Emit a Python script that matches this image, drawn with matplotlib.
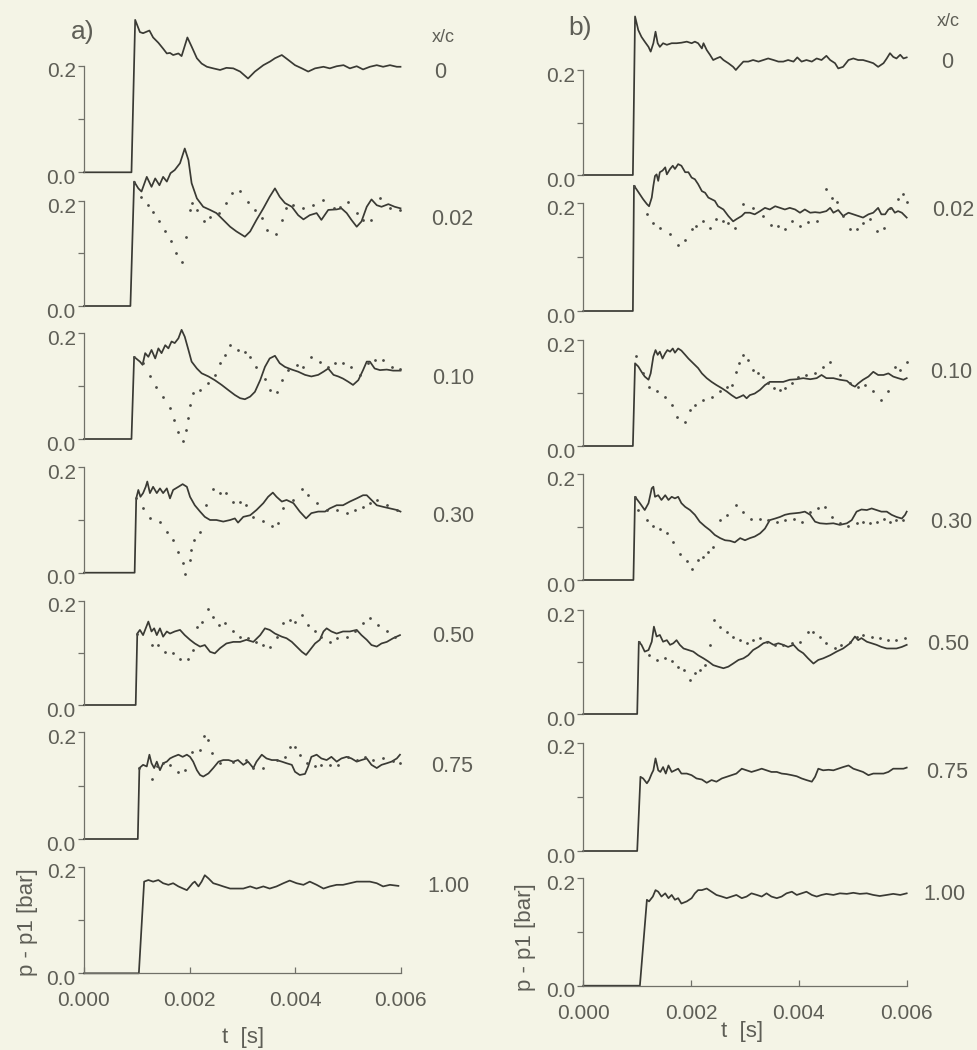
import numpy as np
import matplotlib
matplotlib.use("Agg")
import matplotlib.pyplot as plt
from matplotlib.transforms import ScaledTranslation

plt.rcParams['font.family'] = ['Liberation Sans', 'DejaVu Sans']

# ------------------------------------------------------------------ data
xc_labels = ['0', '0.02', '0.10', '0.30', '0.50', '0.75', '1.00']
t_ticks = [0.000, 0.002, 0.004, 0.006]
t_tick_labels = ['0.000', '0.002', '0.004', '0.006']
p_ticks = [0.0, 0.1, 0.2]
p_tick_labels = ['0.0', '', '0.2']

# ---- panel a) : solid lines (time in ms, p - p1 in bar)
a0_t_ms = [0, 0.90, 0.97, 1.06, 1.12, 1.24, 1.31, 1.41, 1.50, 1.57, 1.63, 1.69, 1.79, 1.85, 1.96, 2.04, 2.14, 2.23, 2.33, 2.45,
           2.58, 2.70, 2.83, 2.96, 3.11, 3.24, 3.40, 3.53, 3.62, 3.75, 3.87, 4.00, 4.13, 4.25, 4.38, 4.54, 4.66, 4.79, 4.92, 5.04,
           5.17, 5.29, 5.42, 5.55, 5.67, 5.80, 5.93, 6.00]
a0_p = [0, 0, 0.286, 0.263, 0.261, 0.266, 0.253, 0.243, 0.232, 0.223, 0.224, 0.220, 0.223, 0.218, 0.253, 0.236, 0.214, 0.204, 0.198, 0.195,
        0.192, 0.196, 0.195, 0.189, 0.176, 0.189, 0.201, 0.208, 0.214, 0.220, 0.211, 0.201, 0.195, 0.189, 0.195, 0.198, 0.195, 0.199, 0.201, 0.195,
        0.199, 0.193, 0.198, 0.201, 0.198, 0.201, 0.198, 0.198]

a1_t_ms = [0, 0.88, 0.95, 1.03, 1.09, 1.19, 1.28, 1.35, 1.43, 1.50, 1.57, 1.64, 1.72, 1.82, 1.91, 1.98, 2.04, 2.14, 2.26, 2.39,
           2.51, 2.64, 2.77, 2.89, 3.05, 3.15, 3.27, 3.40, 3.52, 3.62, 3.71, 3.81, 3.94, 4.06, 4.16, 4.28, 4.41, 4.50, 4.63, 4.79,
           4.88, 4.98, 5.07, 5.17, 5.26, 5.36, 5.45, 5.55, 5.64, 5.77, 5.89, 6.00]
a1_p = [0, 0, 0.237, 0.224, 0.218, 0.246, 0.227, 0.243, 0.230, 0.246, 0.237, 0.253, 0.259, 0.272, 0.300, 0.278, 0.234, 0.205, 0.189, 0.183,
        0.177, 0.164, 0.151, 0.142, 0.132, 0.142, 0.164, 0.186, 0.208, 0.224, 0.208, 0.196, 0.189, 0.173, 0.165, 0.173, 0.177, 0.164, 0.183, 0.184,
        0.186, 0.177, 0.164, 0.151, 0.161, 0.189, 0.203, 0.192, 0.189, 0.194, 0.189, 0.186]

a2_t_ms = [0, 0.90, 0.95, 1.06, 1.11, 1.16, 1.22, 1.28, 1.35, 1.41, 1.47, 1.54, 1.60, 1.66, 1.72, 1.79, 1.85, 1.91, 1.98, 2.04,
           2.14, 2.23, 2.36, 2.48, 2.61, 2.74, 2.86, 2.96, 3.05, 3.15, 3.24, 3.34, 3.43, 3.52, 3.62, 3.71, 3.81, 3.94, 4.06, 4.19,
           4.31, 4.44, 4.54, 4.63, 4.73, 4.82, 4.91, 5.01, 5.10, 5.20, 5.29, 5.36, 5.42, 5.51, 5.61, 5.74, 5.86, 6.00]
a2_p = [0, 0, 0.155, 0.146, 0.140, 0.162, 0.155, 0.168, 0.152, 0.171, 0.162, 0.177, 0.171, 0.184, 0.181, 0.190, 0.206, 0.193, 0.168, 0.146,
        0.133, 0.124, 0.118, 0.111, 0.102, 0.092, 0.083, 0.077, 0.075, 0.080, 0.089, 0.111, 0.136, 0.152, 0.157, 0.143, 0.136, 0.131, 0.127, 0.121,
        0.118, 0.121, 0.127, 0.133, 0.121, 0.118, 0.114, 0.108, 0.102, 0.111, 0.130, 0.146, 0.146, 0.133, 0.130, 0.131, 0.129, 0.129]

a3_t_ms = [0, 0.96, 0.99, 1.03, 1.07, 1.12, 1.17, 1.20, 1.25, 1.31, 1.38, 1.44, 1.50, 1.57, 1.63, 1.69, 1.79, 1.87, 1.95, 2.01,
           2.10, 2.20, 2.29, 2.39, 2.51, 2.64, 2.77, 2.86, 2.92, 3.02, 3.15, 3.27, 3.40, 3.49, 3.58, 3.65, 3.75, 3.84, 3.97, 4.09,
           4.21, 4.31, 4.44, 4.57, 4.66, 4.79, 4.91, 5.04, 5.17, 5.29, 5.36, 5.45, 5.55, 5.67, 5.80, 5.93, 6.00]
a3_p = [0, 0, 0.141, 0.157, 0.144, 0.151, 0.163, 0.173, 0.151, 0.163, 0.151, 0.160, 0.151, 0.160, 0.141, 0.157, 0.163, 0.168, 0.163, 0.144,
        0.128, 0.116, 0.106, 0.100, 0.100, 0.097, 0.100, 0.103, 0.095, 0.106, 0.109, 0.119, 0.132, 0.144, 0.152, 0.144, 0.135, 0.138, 0.132, 0.116,
        0.103, 0.113, 0.116, 0.116, 0.122, 0.128, 0.128, 0.135, 0.141, 0.147, 0.147, 0.138, 0.128, 0.125, 0.122, 0.119, 0.116]

a4_t_ms = [0, 0.98, 1.01, 1.06, 1.12, 1.17, 1.22, 1.28, 1.33, 1.38, 1.44, 1.50, 1.57, 1.63, 1.72, 1.82, 1.91, 2.01, 2.10, 2.20,
           2.29, 2.39, 2.48, 2.58, 2.70, 2.83, 2.96, 3.08, 3.21, 3.34, 3.43, 3.52, 3.62, 3.75, 3.84, 3.94, 4.03, 4.13, 4.21, 4.28,
           4.38, 4.47, 4.54, 4.60, 4.69, 4.79, 4.91, 5.04, 5.17, 5.26, 5.36, 5.45, 5.55, 5.64, 5.74, 5.86, 5.99]
a4_p = [0, 0, 0.137, 0.144, 0.134, 0.147, 0.160, 0.141, 0.147, 0.134, 0.147, 0.131, 0.141, 0.137, 0.141, 0.144, 0.134, 0.125, 0.118, 0.112,
        0.115, 0.102, 0.099, 0.109, 0.118, 0.121, 0.121, 0.125, 0.121, 0.134, 0.147, 0.144, 0.137, 0.131, 0.128, 0.121, 0.112, 0.102, 0.096, 0.105,
        0.118, 0.125, 0.141, 0.147, 0.141, 0.137, 0.141, 0.141, 0.144, 0.134, 0.125, 0.115, 0.112, 0.118, 0.121, 0.128, 0.134]

a5_t_ms = [0, 1.02, 1.05, 1.12, 1.19, 1.24, 1.28, 1.33, 1.38, 1.44, 1.50, 1.57, 1.63, 1.69, 1.79, 1.87, 1.95, 2.01, 2.07, 2.14,
           2.20, 2.26, 2.36, 2.45, 2.55, 2.64, 2.74, 2.83, 2.92, 3.02, 3.11, 3.21, 3.27, 3.37, 3.46, 3.56, 3.65, 3.75, 3.84, 3.94,
           4.00, 4.09, 4.19, 4.25, 4.31, 4.41, 4.50, 4.60, 4.69, 4.79, 4.88, 4.98, 5.07, 5.17, 5.26, 5.36, 5.45, 5.55, 5.64, 5.74,
           5.83, 5.93, 5.99]
a5_p = [0, 0, 0.133, 0.139, 0.136, 0.158, 0.142, 0.133, 0.145, 0.129, 0.142, 0.145, 0.151, 0.154, 0.158, 0.154, 0.158, 0.154, 0.145, 0.129,
        0.120, 0.117, 0.123, 0.133, 0.145, 0.148, 0.148, 0.145, 0.148, 0.139, 0.145, 0.133, 0.145, 0.158, 0.151, 0.148, 0.148, 0.145, 0.142, 0.139,
        0.126, 0.120, 0.122, 0.136, 0.154, 0.158, 0.151, 0.148, 0.154, 0.145, 0.151, 0.154, 0.151, 0.145, 0.148, 0.151, 0.139, 0.133, 0.139, 0.142,
        0.145, 0.151, 0.158]

a6_t_ms = [0, 1.04, 1.14, 1.22, 1.31, 1.41, 1.50, 1.60, 1.69, 1.79, 1.88, 1.95, 2.01, 2.06, 2.10, 2.17, 2.23, 2.29, 2.36, 2.45,
           2.55, 2.64, 2.77, 2.89, 3.02, 3.15, 3.27, 3.40, 3.52, 3.65, 3.78, 3.90, 4.03, 4.16, 4.28, 4.41, 4.54, 4.66, 4.79, 4.91,
           5.04, 5.17, 5.29, 5.42, 5.55, 5.67, 5.80, 5.96]
a6_p = [0, 0, 0.172, 0.175, 0.172, 0.175, 0.169, 0.166, 0.169, 0.163, 0.159, 0.156, 0.163, 0.169, 0.172, 0.163, 0.172, 0.184, 0.178, 0.169,
        0.166, 0.163, 0.159, 0.159, 0.159, 0.163, 0.159, 0.163, 0.159, 0.163, 0.169, 0.174, 0.169, 0.166, 0.172, 0.166, 0.159, 0.163, 0.166, 0.166,
        0.169, 0.172, 0.172, 0.172, 0.169, 0.163, 0.166, 0.164]

# ---- panel a) : dotted series
a1d_t_ms = [0.95, 1.09, 1.22, 1.31, 1.43, 1.54, 1.64, 1.74, 1.85, 1.93, 2.00, 2.04, 2.14, 2.27, 2.39, 2.55, 2.70, 2.80, 2.96, 3.11,
            3.24, 3.37, 3.46, 3.64, 3.75, 3.83, 3.97, 4.16, 4.35, 4.54, 4.73, 4.85, 5.01, 5.17, 5.29, 5.45, 5.61, 5.80, 5.99]
a1d_p = [0.237, 0.208, 0.192, 0.180, 0.161, 0.142, 0.123, 0.100, 0.084, 0.132, 0.183, 0.197, 0.183, 0.162, 0.170, 0.178, 0.197, 0.216, 0.220, 0.199,
         0.183, 0.167, 0.145, 0.138, 0.164, 0.186, 0.192, 0.186, 0.192, 0.202, 0.186, 0.189, 0.199, 0.177, 0.164, 0.164, 0.205, 0.186, 0.182]

a2d_t_ms = [0.95, 1.12, 1.25, 1.36, 1.50, 1.63, 1.71, 1.79, 1.87, 1.93, 1.98, 2.01, 2.06, 2.20, 2.36, 2.48, 2.58, 2.67, 2.77, 2.92,
            3.05, 3.15, 3.27, 3.43, 3.52, 3.65, 3.75, 3.87, 4.03, 4.16, 4.31, 4.47, 4.63, 4.76, 4.91, 5.07, 5.23, 5.39, 5.51, 5.67,
            5.83, 5.99]
a2d_p = [0.155, 0.143, 0.118, 0.099, 0.080, 0.058, 0.036, 0.014, -0.004, 0.017, 0.039, 0.064, 0.086, 0.092, 0.105, 0.121, 0.143, 0.158, 0.177, 0.168,
         0.165, 0.155, 0.136, 0.114, 0.092, 0.089, 0.111, 0.130, 0.140, 0.136, 0.155, 0.146, 0.136, 0.143, 0.144, 0.136, 0.121, 0.143, 0.149, 0.149,
         0.136, 0.133]

a3d_t_ms = [0.99, 1.12, 1.25, 1.44, 1.57, 1.69, 1.79, 1.87, 1.91, 2.00, 2.02, 2.08, 2.20, 2.32, 2.45, 2.58, 2.70, 2.83, 2.96, 3.08,
            3.21, 3.40, 3.56, 3.68, 3.78, 3.97, 4.13, 4.25, 4.41, 4.60, 4.79, 4.98, 5.14, 5.29, 5.42, 5.55, 5.74, 5.93]
a3d_p = [0.141, 0.122, 0.103, 0.097, 0.078, 0.062, 0.040, 0.018, -0.003, 0.024, 0.043, 0.062, 0.078, 0.128, 0.158, 0.151, 0.152, 0.135, 0.135, 0.128,
         0.106, 0.099, 0.089, 0.095, 0.122, 0.138, 0.158, 0.147, 0.132, 0.119, 0.119, 0.113, 0.119, 0.125, 0.132, 0.138, 0.128, 0.119]

a4d_t_ms = [1.01, 1.28, 1.41, 1.54, 1.69, 1.82, 1.98, 2.07, 2.14, 2.23, 2.36, 2.45, 2.55, 2.67, 2.83, 2.96, 3.11, 3.27, 3.40, 3.52,
            3.65, 3.78, 3.90, 4.00, 4.13, 4.25, 4.38, 4.50, 4.66, 4.79, 4.98, 5.14, 5.29, 5.42, 5.58, 5.74, 5.89]
a4d_p = [0.137, 0.115, 0.115, 0.102, 0.099, 0.089, 0.089, 0.105, 0.150, 0.160, 0.185, 0.169, 0.153, 0.157, 0.141, 0.131, 0.128, 0.121, 0.115, 0.112,
         0.131, 0.157, 0.163, 0.160, 0.173, 0.153, 0.141, 0.131, 0.121, 0.128, 0.131, 0.141, 0.157, 0.166, 0.153, 0.141, 0.131]

a5d_t_ms = [1.05, 1.28, 1.38, 1.50, 1.63, 1.79, 1.91, 2.04, 2.20, 2.27, 2.36, 2.42, 2.58, 2.83, 3.08, 3.21, 3.40, 3.65, 3.81, 3.90,
            4.00, 4.09, 4.22, 4.38, 4.50, 4.66, 4.82, 5.01, 5.17, 5.33, 5.48, 5.67, 5.86, 5.99]
a5d_p = [0.133, 0.112, 0.136, 0.142, 0.139, 0.126, 0.129, 0.164, 0.167, 0.193, 0.186, 0.161, 0.142, 0.145, 0.148, 0.133, 0.133, 0.148, 0.154, 0.173,
         0.172, 0.158, 0.142, 0.136, 0.139, 0.139, 0.139, 0.154, 0.148, 0.154, 0.148, 0.151, 0.147, 0.142]

# ---- panel b) : solid lines
b0_t_ms = [0, 0.92, 0.96, 1.02, 1.08, 1.14, 1.21, 1.25, 1.30, 1.34, 1.38, 1.42, 1.48, 1.55, 1.64, 1.73, 1.82, 1.92, 2.01, 2.07,
           2.13, 2.20, 2.23, 2.29, 2.35, 2.41, 2.47, 2.54, 2.60, 2.69, 2.78, 2.83, 2.88, 2.97, 3.06, 3.15, 3.25, 3.34, 3.43, 3.53,
           3.62, 3.71, 3.80, 3.90, 3.97, 4.05, 4.14, 4.24, 4.33, 4.42, 4.51, 4.58, 4.67, 4.73, 4.82, 4.92, 5.01, 5.10, 5.19, 5.29,
           5.38, 5.47, 5.57, 5.63, 5.69, 5.75, 5.81, 5.88, 5.94, 6.00]
b0_p = [0, 0, 0.302, 0.276, 0.263, 0.254, 0.244, 0.235, 0.251, 0.273, 0.251, 0.244, 0.251, 0.248, 0.251, 0.251, 0.252, 0.254, 0.251, 0.254,
        0.251, 0.241, 0.251, 0.238, 0.229, 0.219, 0.222, 0.225, 0.219, 0.213, 0.206, 0.200, 0.206, 0.216, 0.216, 0.219, 0.216, 0.219, 0.222, 0.219,
        0.216, 0.216, 0.219, 0.216, 0.224, 0.216, 0.219, 0.216, 0.222, 0.219, 0.227, 0.219, 0.213, 0.203, 0.206, 0.219, 0.222, 0.219, 0.219, 0.216,
        0.213, 0.206, 0.213, 0.222, 0.232, 0.225, 0.222, 0.229, 0.222, 0.224]

b1_t_ms = [0, 0.92, 0.94, 0.99, 1.05, 1.11, 1.18, 1.22, 1.27, 1.30, 1.33, 1.36, 1.39, 1.42, 1.47, 1.52, 1.55, 1.61, 1.66, 1.70,
           1.76, 1.82, 1.89, 1.95, 2.01, 2.07, 2.13, 2.20, 2.26, 2.32, 2.38, 2.44, 2.50, 2.60, 2.69, 2.78, 2.84, 2.94, 3.00, 3.09,
           3.18, 3.28, 3.37, 3.46, 3.56, 3.65, 3.74, 3.83, 3.93, 4.02, 4.11, 4.21, 4.30, 4.39, 4.51, 4.58, 4.64, 4.73, 4.82, 4.92,
           5.01, 5.10, 5.19, 5.29, 5.38, 5.47, 5.53, 5.60, 5.66, 5.72, 5.78, 5.84, 5.91, 6.00]
b1_p = [0, 0, 0.232, 0.225, 0.216, 0.207, 0.198, 0.194, 0.210, 0.232, 0.250, 0.253, 0.241, 0.257, 0.260, 0.266, 0.253, 0.263, 0.269, 0.263,
        0.272, 0.269, 0.257, 0.257, 0.247, 0.244, 0.235, 0.222, 0.219, 0.210, 0.207, 0.204, 0.194, 0.188, 0.176, 0.166, 0.170, 0.176, 0.182, 0.182,
        0.179, 0.185, 0.191, 0.188, 0.194, 0.191, 0.188, 0.191, 0.188, 0.182, 0.188, 0.182, 0.183, 0.182, 0.185, 0.191, 0.182, 0.187, 0.176, 0.182,
        0.179, 0.176, 0.173, 0.179, 0.182, 0.191, 0.179, 0.179, 0.188, 0.191, 0.182, 0.185, 0.182, 0.173]

b2_t_ms = [0, 0.92, 0.96, 1.02, 1.08, 1.14, 1.21, 1.25, 1.30, 1.34, 1.38, 1.42, 1.47, 1.52, 1.56, 1.61, 1.66, 1.70, 1.76, 1.82,
           1.89, 1.95, 2.04, 2.13, 2.20, 2.29, 2.38, 2.47, 2.57, 2.66, 2.75, 2.84, 2.91, 2.97, 3.03, 3.09, 3.18, 3.28, 3.37, 3.46,
           3.59, 3.71, 3.83, 3.96, 4.08, 4.21, 4.33, 4.42, 4.51, 4.64, 4.76, 4.89, 4.98, 5.04, 5.10, 5.19, 5.29, 5.38, 5.47, 5.57,
           5.66, 5.75, 5.84, 5.94, 6.00]
b2_p = [0, 0, 0.156, 0.150, 0.140, 0.131, 0.125, 0.137, 0.169, 0.181, 0.172, 0.178, 0.165, 0.175, 0.181, 0.178, 0.184, 0.176, 0.184, 0.180,
        0.172, 0.165, 0.156, 0.147, 0.137, 0.128, 0.121, 0.115, 0.109, 0.103, 0.096, 0.090, 0.093, 0.096, 0.090, 0.096, 0.099, 0.106, 0.115, 0.121,
        0.121, 0.121, 0.125, 0.126, 0.128, 0.126, 0.128, 0.134, 0.128, 0.128, 0.125, 0.123, 0.115, 0.112, 0.118, 0.125, 0.131, 0.140, 0.134, 0.134,
        0.137, 0.131, 0.128, 0.125, 0.128]

b3_t_ms = [0, 0.93, 0.96, 1.05, 1.14, 1.21, 1.27, 1.30, 1.33, 1.39, 1.45, 1.52, 1.58, 1.64, 1.70, 1.76, 1.82, 1.89, 1.98, 2.07,
           2.16, 2.26, 2.35, 2.44, 2.54, 2.63, 2.72, 2.81, 2.91, 3.00, 3.09, 3.18, 3.28, 3.37, 3.46, 3.56, 3.65, 3.74, 3.83, 3.93,
           4.02, 4.11, 4.21, 4.30, 4.39, 4.51, 4.64, 4.76, 4.89, 4.98, 5.07, 5.16, 5.26, 5.35, 5.44, 5.53, 5.63, 5.72, 5.81, 5.91,
           5.97, 6.00]
b3_p = [0, 0, 0.157, 0.145, 0.132, 0.145, 0.173, 0.176, 0.157, 0.160, 0.151, 0.160, 0.151, 0.157, 0.154, 0.157, 0.145, 0.138, 0.132, 0.123,
        0.110, 0.101, 0.094, 0.085, 0.079, 0.075, 0.074, 0.071, 0.079, 0.075, 0.079, 0.082, 0.088, 0.097, 0.113, 0.116, 0.119, 0.123, 0.125, 0.126,
        0.127, 0.129, 0.123, 0.110, 0.107, 0.106, 0.107, 0.104, 0.107, 0.113, 0.129, 0.133, 0.132, 0.135, 0.132, 0.129, 0.129, 0.123, 0.119, 0.116,
        0.123, 0.129]

b4_t_ms = [0, 1.00, 1.03, 1.08, 1.14, 1.21, 1.27, 1.31, 1.36, 1.42, 1.48, 1.55, 1.61, 1.67, 1.73, 1.79, 1.86, 1.95, 2.04, 2.13,
           2.23, 2.32, 2.41, 2.50, 2.60, 2.69, 2.78, 2.88, 2.97, 3.06, 3.15, 3.25, 3.34, 3.43, 3.53, 3.62, 3.71, 3.80, 3.90, 3.99,
           4.08, 4.17, 4.27, 4.36, 4.45, 4.58, 4.70, 4.82, 4.95, 5.04, 5.10, 5.16, 5.26, 5.35, 5.44, 5.53, 5.63, 5.72, 5.81, 5.91,
           6.00]
b4_p = [0, 0, 0.139, 0.133, 0.120, 0.123, 0.139, 0.168, 0.149, 0.152, 0.139, 0.142, 0.133, 0.136, 0.142, 0.133, 0.126, 0.123, 0.120, 0.113,
        0.107, 0.101, 0.094, 0.091, 0.088, 0.091, 0.097, 0.104, 0.107, 0.113, 0.123, 0.129, 0.136, 0.139, 0.133, 0.136, 0.133, 0.129, 0.133, 0.123,
        0.117, 0.107, 0.097, 0.104, 0.107, 0.113, 0.120, 0.126, 0.136, 0.149, 0.142, 0.146, 0.139, 0.136, 0.133, 0.129, 0.126, 0.126, 0.126, 0.129,
        0.133]

b5_t_ms = [0, 1.00, 1.06, 1.11, 1.18, 1.22, 1.27, 1.30, 1.34, 1.39, 1.43, 1.48, 1.53, 1.58, 1.64, 1.70, 1.76, 1.82, 1.92, 2.01,
           2.10, 2.20, 2.29, 2.38, 2.47, 2.57, 2.66, 2.75, 2.84, 2.94, 3.03, 3.12, 3.22, 3.31, 3.40, 3.49, 3.59, 3.68, 3.77, 3.87,
           3.96, 4.05, 4.14, 4.24, 4.30, 4.36, 4.45, 4.55, 4.64, 4.73, 4.82, 4.92, 5.01, 5.10, 5.19, 5.29, 5.38, 5.47, 5.57, 5.66,
           5.75, 5.84, 5.94, 6.00]
b5_p = [0, 0, 0.137, 0.134, 0.125, 0.131, 0.143, 0.149, 0.171, 0.149, 0.146, 0.155, 0.143, 0.158, 0.146, 0.149, 0.152, 0.143, 0.143, 0.140,
        0.134, 0.132, 0.126, 0.131, 0.128, 0.134, 0.137, 0.140, 0.143, 0.152, 0.149, 0.146, 0.149, 0.152, 0.149, 0.146, 0.146, 0.143, 0.142, 0.140,
        0.138, 0.134, 0.131, 0.128, 0.137, 0.152, 0.149, 0.150, 0.149, 0.152, 0.155, 0.158, 0.152, 0.149, 0.146, 0.140, 0.143, 0.143, 0.143, 0.146,
        0.152, 0.152, 0.152, 0.154]

b6_t_ms = [0, 1.05, 1.18, 1.22, 1.29, 1.34, 1.39, 1.45, 1.52, 1.58, 1.64, 1.70, 1.76, 1.82, 1.92, 2.01, 2.07, 2.13, 2.20, 2.29,
           2.38, 2.47, 2.57, 2.66, 2.75, 2.84, 2.94, 3.03, 3.12, 3.22, 3.31, 3.40, 3.49, 3.59, 3.68, 3.77, 3.87, 3.96, 4.05, 4.14,
           4.24, 4.33, 4.42, 4.51, 4.64, 4.76, 4.89, 5.01, 5.13, 5.26, 5.38, 5.50, 5.63, 5.75, 5.88, 6.00]
b6_p = [0, 0, 0.160, 0.157, 0.166, 0.178, 0.175, 0.166, 0.172, 0.163, 0.169, 0.160, 0.163, 0.153, 0.157, 0.163, 0.172, 0.178, 0.178, 0.181,
        0.175, 0.169, 0.166, 0.163, 0.166, 0.169, 0.163, 0.166, 0.172, 0.169, 0.166, 0.172, 0.166, 0.163, 0.166, 0.172, 0.175, 0.169, 0.172, 0.175,
        0.169, 0.166, 0.169, 0.171, 0.169, 0.172, 0.171, 0.173, 0.171, 0.172, 0.169, 0.167, 0.169, 0.171, 0.169, 0.172]

# ---- panel b) : dotted series
b1d_t_ms = [0.94, 1.18, 1.30, 1.42, 1.61, 1.76, 1.89, 2.01, 2.10, 2.23, 2.35, 2.47, 2.60, 2.69, 2.81, 2.97, 3.15, 3.34, 3.49, 3.62,
            3.74, 3.87, 4.02, 4.17, 4.33, 4.51, 4.61, 4.70, 4.82, 4.95, 5.07, 5.19, 5.32, 5.44, 5.57, 5.69, 5.84, 5.94, 6.00]
b1d_p = [0.232, 0.179, 0.163, 0.154, 0.142, 0.123, 0.132, 0.151, 0.157, 0.166, 0.154, 0.170, 0.166, 0.163, 0.154, 0.198, 0.191, 0.176, 0.160, 0.157,
         0.151, 0.166, 0.157, 0.165, 0.166, 0.225, 0.210, 0.201, 0.176, 0.151, 0.151, 0.163, 0.170, 0.148, 0.154, 0.191, 0.207, 0.216, 0.201]

b2d_t_ms = [0.97, 1.11, 1.22, 1.36, 1.52, 1.64, 1.73, 1.89, 1.98, 2.07, 2.23, 2.38, 2.54, 2.66, 2.75, 2.83, 2.88, 2.97, 3.06, 3.15,
            3.25, 3.34, 3.43, 3.53, 3.65, 3.74, 3.87, 3.99, 4.14, 4.30, 4.45, 4.58, 4.76, 4.95, 5.10, 5.23, 5.38, 5.53, 5.66, 5.78,
            5.88, 6.00]
b2d_p = [0.169, 0.137, 0.112, 0.103, 0.093, 0.077, 0.055, 0.046, 0.068, 0.077, 0.087, 0.093, 0.103, 0.112, 0.115, 0.140, 0.156, 0.172, 0.162, 0.143,
         0.137, 0.131, 0.118, 0.109, 0.106, 0.109, 0.118, 0.131, 0.134, 0.137, 0.150, 0.159, 0.134, 0.118, 0.112, 0.115, 0.103, 0.087, 0.103, 0.150,
         0.143, 0.159]

b3d_t_ms = [0.96, 1.02, 1.18, 1.30, 1.42, 1.55, 1.67, 1.79, 1.92, 2.01, 2.13, 2.23, 2.32, 2.41, 2.54, 2.66, 2.84, 2.97, 3.12, 3.28,
            3.43, 3.59, 3.74, 3.90, 4.05, 4.21, 4.36, 4.48, 4.61, 4.76, 4.92, 5.07, 5.19, 5.32, 5.44, 5.57, 5.69, 5.81, 5.94]
b3d_p = [0.157, 0.132, 0.113, 0.101, 0.097, 0.088, 0.072, 0.050, 0.035, 0.020, 0.038, 0.044, 0.053, 0.063, 0.113, 0.123, 0.142, 0.129, 0.116, 0.116,
         0.113, 0.110, 0.113, 0.116, 0.110, 0.129, 0.135, 0.138, 0.119, 0.107, 0.101, 0.107, 0.110, 0.107, 0.110, 0.116, 0.110, 0.113, 0.113]

b4d_t_ms = [1.03, 1.21, 1.36, 1.52, 1.64, 1.76, 1.86, 1.98, 2.07, 2.16, 2.26, 2.35, 2.42, 2.54, 2.66, 2.78, 2.91, 3.03, 3.15, 3.28,
            3.40, 3.56, 3.71, 3.87, 4.02, 4.17, 4.27, 4.39, 4.51, 4.67, 4.79, 4.95, 5.07, 5.19, 5.35, 5.51, 5.66, 5.81, 5.97]
b4d_p = [0.139, 0.113, 0.104, 0.107, 0.101, 0.091, 0.085, 0.065, 0.078, 0.085, 0.094, 0.133, 0.181, 0.168, 0.158, 0.149, 0.142, 0.136, 0.142, 0.146,
         0.139, 0.133, 0.133, 0.136, 0.139, 0.158, 0.158, 0.149, 0.136, 0.126, 0.133, 0.139, 0.149, 0.152, 0.149, 0.146, 0.142, 0.142, 0.146]

a_solid = [(a0_t_ms, a0_p), (a1_t_ms, a1_p), (a2_t_ms, a2_p), (a3_t_ms, a3_p),
           (a4_t_ms, a4_p), (a5_t_ms, a5_p), (a6_t_ms, a6_p)]
a_dots = [None, (a1d_t_ms, a1d_p), (a2d_t_ms, a2d_p), (a3d_t_ms, a3d_p),
          (a4d_t_ms, a4d_p), (a5d_t_ms, a5d_p), None]
b_solid = [(b0_t_ms, b0_p), (b1_t_ms, b1_p), (b2_t_ms, b2_p), (b3_t_ms, b3_p),
           (b4_t_ms, b4_p), (b5_t_ms, b5_p), (b6_t_ms, b6_p)]
b_dots = [None, (b1d_t_ms, b1d_p), (b2d_t_ms, b2d_p), (b3d_t_ms, b3d_p),
          (b4d_t_ms, b4d_p), None, None]

# ------------------------------------------------------------------ layout / style
W, H = 977, 1050
BG = '#f4f4e6'
INK = '#3a3a34'
TXT = '#5e5e56'
SPINE = '#707068'

fig = plt.figure(figsize=(W / 100, H / 100), dpi=100, facecolor=BG)
ylab_shift = ScaledTranslation(0, -3.0 / 72, fig.dpi_scale_trans)

panels = [
    dict(x0=84, x1=400.5,
         base=[172.3, 306, 439, 572.7, 705, 839, 973.3],
         top=[65.7, 201, 333, 467.3, 600.7, 732.3, 866.7],
         solid=a_solid, dots=a_dots,
         lab=[(440, 72), (452, 219), (453, 378), (453, 517), (453, 637), (452, 767), (448, 887)],
         xc=(443, 37), letter='a)', letter_xy=(83, 32),
         ylab_xy=(27, 922), xlab_xy=(243, 1037)),
    dict(x0=583.3, x1=906.7,
         base=[175, 311, 446, 580, 714, 851, 985.7],
         top=[70, 203, 340, 474, 610, 742.7, 878.3],
         solid=b_solid, dots=b_dots,
         lab=[(947, 62), (953, 210), (951, 372), (951, 522), (948, 645), (947, 773), (944, 895)],
         xc=(948, 22), letter='b)', letter_xy=(580, 28),
         ylab_xy=(525, 937), xlab_xy=(742, 1031)),
]

for P in panels:
    n = len(P['solid'])
    for i in range(n):
        b, tp = P['base'][i], P['top'][i]
        ax = fig.add_axes([P['x0'] / W, 1 - b / H, (P['x1'] - P['x0']) / W, (b - tp) / H])
        ax.patch.set_visible(False)
        ax.set_xlim(0, 0.006)
        ax.set_ylim(0, 0.2)
        ts, ps = P['solid'][i]
        ax.plot(np.asarray(ts) * 1e-3, ps, color=INK, lw=1.25, clip_on=False,
                solid_joinstyle='round')
        if P['dots'][i] is not None:
            td, pd_ = P['dots'][i]
            ax.plot(np.asarray(td) * 1e-3, pd_, linestyle='none', marker='o',
                    ms=2.0, mfc='#4a4a44', mec='none', clip_on=False)
        for s in ('top', 'right'):
            ax.spines[s].set_visible(False)
        ax.spines['left'].set_color(SPINE)
        ax.spines['left'].set_linewidth(0.9)
        ax.set_yticks(p_ticks)
        ax.set_yticklabels(p_tick_labels)
        ax.tick_params(axis='y', direction='out', length=4, width=0.9, color=SPINE,
                       labelsize=15, labelcolor=TXT, pad=2)
        for lab in ax.get_yticklabels():
            lab.set_transform(lab.get_transform() + ylab_shift)
        if i < n - 1:
            ax.spines['bottom'].set_visible(False)
            ax.set_xticks([])
        else:
            ax.spines['bottom'].set_color(SPINE)
            ax.spines['bottom'].set_linewidth(0.9)
            ax.set_xticks(t_ticks)
            ax.set_xticklabels(t_tick_labels)
            ax.tick_params(axis='x', direction='in', length=4, width=0.9, color=SPINE,
                           labelsize=15, labelcolor=TXT, pad=13)
        lx, ly = P['lab'][i]
        fig.text(lx / W, 1 - ly / H, xc_labels[i], ha='center', va='center',
                 fontsize=15.5, color=TXT)
    fig.text(P['xc'][0] / W, 1 - P['xc'][1] / H, 'x/c', ha='center', va='center',
             fontsize=13, color=TXT)
    fig.text(P['letter_xy'][0] / W, 1 - P['letter_xy'][1] / H, P['letter'],
             ha='center', va='center', fontsize=19, color=TXT)
    fig.text(P['ylab_xy'][0] / W, 1 - P['ylab_xy'][1] / H, 'p - p1 [bar]', rotation=90,
             ha='center', va='center', fontsize=16, color=TXT)
    fig.text(P['xlab_xy'][0] / W, 1 - P['xlab_xy'][1] / H, 't  [s]',
             ha='center', va='center', fontsize=16, color=TXT)

fig.savefig('out.png', dpi=100, facecolor=BG)
